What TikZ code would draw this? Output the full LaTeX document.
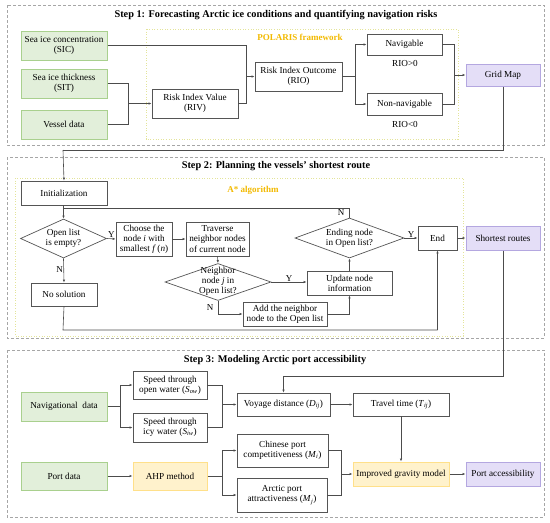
\documentclass[tikz,border=0pt]{standalone}
\usepackage{fontspec}
\setmainfont{Liberation Serif}
\usetikzlibrary{arrows.meta,shapes.geometric,calc}
\definecolor{gfill}{HTML}{E2EFDA}\definecolor{gline}{HTML}{A9D08E}
\definecolor{pfill}{HTML}{E4DEF7}\definecolor{pline}{HTML}{B4A7E0}
\definecolor{yfill}{HTML}{FFF2CC}\definecolor{yline}{HTML}{FFE08A}
\definecolor{lbl}{HTML}{F2B900}\definecolor{dotc}{HTML}{E3E49A}
\definecolor{boxc}{HTML}{555555}\definecolor{dashc}{HTML}{A6A6A6}
\newcommand{\iv}[2]{\textit{#1}\textsubscript{\textit{#2}}}
\tikzset{
  every node/.style={font=\fontsize{9.2}{10.2}\selectfont, align=center, inner sep=1pt},
  bx/.style={draw=boxc, line width=0.7pt, fill=white},
  gbox/.style={draw=gline, line width=1pt, fill=gfill},
  pbox/.style={draw=pline, line width=1pt, fill=pfill},
  ybox/.style={draw=yline, line width=1pt, fill=yfill},
  dia/.style={draw=boxc, line width=0.7pt, diamond, aspect=2.2, inner sep=0pt, fill=white},
  conn/.style={draw=boxc!90!black, line width=0.6pt},
  arr/.style={conn, -{Latex[length=3pt,width=2.4pt]}},
  outer/.style={draw=dashc, line width=0.7pt, dash pattern=on 3pt off 2pt},
  inner/.style={draw=dotc, line width=1pt, dash pattern=on 1pt off 1.6pt},
  ttl/.style={font=\fontsize{10.3}{12}\selectfont\bfseries},
  lab/.style={font=\fontsize{9}{10}\selectfont\bfseries, text=lbl},
  yn/.style={font=\fontsize{9}{10}\selectfont, inner sep=0.5pt}
}
\newcommand{\rbox}[6]{\node[#1, minimum width=#4pt, minimum height=#5pt, inner sep=0pt] (#2) at (#3) {#6};}
\begin{document}
\begin{tikzpicture}[x=1pt,y=-1pt]
\useasboundingbox (0,0) rectangle (550,523);
% ---- frames
\draw[outer] (7,5) rectangle (544,145);
\draw[inner] (146,29) rectangle (458,139);
\draw[outer] (7,157) rectangle (544,338);
\draw[inner] (15,178) rectangle (463,336);
\draw[outer] (7,350) rectangle (544,517);
\node[ttl] (t1) at (276,15) {Step 1: Forecasting Arctic ice conditions and quantifying navigation risks};
\node[lab] (l1) at (300,37) {POLARIS framework};
\node[ttl] (t2) at (276,166) {Step 2: Planning the vessels' shortest route};
\node[lab] (l2) at (253,190) {A* algorithm};
\node[ttl] (t3) at (275,360) {Step 3: Modeling Arctic port accessibility};
% ---- step 1
\rbox{gbox}{sic}{64,45.5}{86}{29}{Sea ice concentration\\(SIC)}
\rbox{gbox}{sit}{64,83.5}{86}{29}{Sea ice thickness\\(SIT)}
\rbox{gbox}{ves}{64,124.5}{86}{29}{Vessel data}
\rbox{bx}{riv}{195,103.5}{86}{29}{Risk Index Value\\(RIV)}
\rbox{bx}{rio}{298.5,76.5}{87}{29}{Risk Index Outcome\\(RIO)}
\rbox{bx}{nav}{404.5,44.5}{75}{21}{Navigable}
\rbox{bx}{non}{404.5,104}{75}{22}{Non-navigable}
\node (g0) at (405,63) {RIO>0};
\node (l0) at (405,124) {RIO<0};
\rbox{pbox}{grid}{503,75}{74}{22}{Grid Map}
\coordinate (j1) at (128,103.5);
\draw[conn] (sit.east) -| (j1);
\draw[conn] (ves.east) -| (j1);
\draw[arr] (j1) -- (riv.west);
\coordinate (j2) at (246,76.5);
\draw[conn] (sic.east) -| (j2);
\draw[conn] (riv.east) -| (j2);
\draw[arr] (j2) -- (rio.west);
\coordinate (j3) at (355,76.5);
\draw[conn] (rio.east) -- (j3);
\draw[arr] (j3) |- (nav.west);
\draw[arr] (j3) |- (non.west);
\coordinate (j4) at (454,75);
\draw[conn] (nav.east) -| (j4);
\draw[conn] (non.east) -| (j4);
\draw[arr] (j4) -- (grid.west);
% ---- step 2
\rbox{bx}{init}{64,193}{86}{24}{Initialization}
\node[dia, minimum width=86pt, minimum height=39pt] (open) at (63.5,238.5) {};
\node (opent) at (open.center) {Open list\\is empty?};
\rbox{bx}{choose}{144,239}{56}{34}{Choose the\\node \textit{i} with\\smallest \textit{f}\,(\textit{n})}
\rbox{bx}{trav}{217.5,239}{63}{34}{Traverse\\neighbor nodes\\of current node}
\node[dia, minimum width=106pt, minimum height=37pt] (nb) at (218,282) {};
\node (nbt) at (218,281) {Neighbor\\node \textit{j} in\\Open list?};
\rbox{bx}{upd}{349.5,283}{85}{24}{Update node\\information}
\rbox{bx}{add}{285,314}{84}{24}{Add the neighbor\\node to the Open list}
\node[dia, minimum width=109pt, minimum height=40pt] (endq) at (349.5,238) {};
\node (endqt) at (endq.center) {Ending node\\in Open list?};
\rbox{bx}{endb}{437.5,238}{39}{24}{End}
\rbox{pbox}{short}{503,238}{74}{24}{Shortest routes}
\rbox{bx}{nosol}{64,294.5}{66}{23}{No solution}
% connectors step 2
\coordinate (gm1) at (503,150);
\coordinate (gm2) at (63,150);
\draw[conn] (grid.south) -- (gm1) -- (gm2);
\draw[arr] (gm2) -- (init.north);
\draw[arr] (init.south -| open.north) -- (open.north);
\coordinate (loop) at (349.5,208);
\draw[conn] (endq.north) -- (loop) -- (loop -| open.north);
\draw[arr] (open.east) -- node[yn, above] {Y} (choose.west);
\draw[arr] (choose.east) -- (trav.west);
\draw[arr] (trav.south) -- (nb.north);
\draw[arr] (nb.east) -- node[yn, above, pos=0.5] {Y} (nb.east -| upd.west);
\coordinate (nbn) at (218,314);
\draw[arr] (nb.south) -- (nbn) -- (add.west);
\node[yn] (nl) at (210,308) {N};
\draw[arr] (add.east) -| (upd.south);
\draw[arr] (upd.north) -- (endq.south);
\draw[arr] (endq.east) -- node[yn, above] {Y} (endb.west);
\node[yn] (nl2) at (341,213) {N};
\draw[arr] (endb.east) -- (short.west);
\draw[arr] (open.south) -- node[yn, left, pos=0.45] {N} (nosol.north);
\coordinate (ns1) at (63,330);
\coordinate (ns2) at (437.5,330);
\draw[conn] (nosol.south) -- (ns1) -- (ns2);
\draw[arr] (ns2) -- (endb.south);
% ---- step 3
\rbox{gbox}{navd}{64,406.5}{86}{29}{Navigational\ \ data}
\rbox{bx}{sow}{170,385}{74}{28}{Speed through\\open water (\iv{S}{ow})}
\rbox{bx}{siw}{170,427.5}{74}{29}{Speed through\\icy water (\iv{S}{iw})}
\rbox{bx}{voy}{283.5,404.5}{93}{23}{Voyage distance (\iv{D}{ij})}
\rbox{bx}{trt}{401,404.5}{96}{23}{Travel time (\iv{T}{ij})}
\rbox{gbox}{port}{64,476}{86}{28}{Port data}
\rbox{ybox}{ahp}{170,476}{74}{28}{AHP method}
\rbox{bx}{chn}{282.5,450.5}{91}{33}{Chinese port\\competitiveness (\iv{M}{i})}
\rbox{bx}{arc}{282,495}{90}{34}{Arctic port\\attractiveness (\iv{M}{j})}
\rbox{ybox}{igm}{401,474}{96}{24}{Improved gravity model}
\rbox{pbox}{pacc}{503,474}{74}{24}{Port accessibility}
\coordinate (sr1) at (503,376);
\coordinate (sr2) at (283.5,376);
\draw[conn] (short.south) -- (sr1) -- (sr2);
\draw[arr] (sr2) -- (voy.north);
\coordinate (j5) at (120,406.5);
\draw[conn] (navd.east) -- (j5);
\draw[arr] (j5) |- (sow.west);
\draw[arr] (j5) |- (siw.west);
\coordinate (j6) at (222,404.5);
\draw[conn] (sow.east) -| (j6);
\draw[conn] (siw.east) -| (j6);
\draw[arr] (j6) -- (voy.west);
\draw[arr] (voy.east) -- (trt.west);
\draw[arr] (trt.south) -- (igm.north);
\draw[arr] (port.east) -- (ahp.west);
\coordinate (j7) at (222,476);
\draw[conn] (ahp.east) -- (j7);
\draw[arr] (j7) |- (chn.west);
\draw[arr] (j7) |- (arc.west);
\coordinate (j8) at (341,474);
\draw[conn] (chn.east) -| (j8);
\draw[conn] (arc.east) -| (j8);
\draw[arr] (j8) -- (igm.west);
\draw[arr] (igm.east) -- (pacc.west);
\end{tikzpicture}
\end{document}
